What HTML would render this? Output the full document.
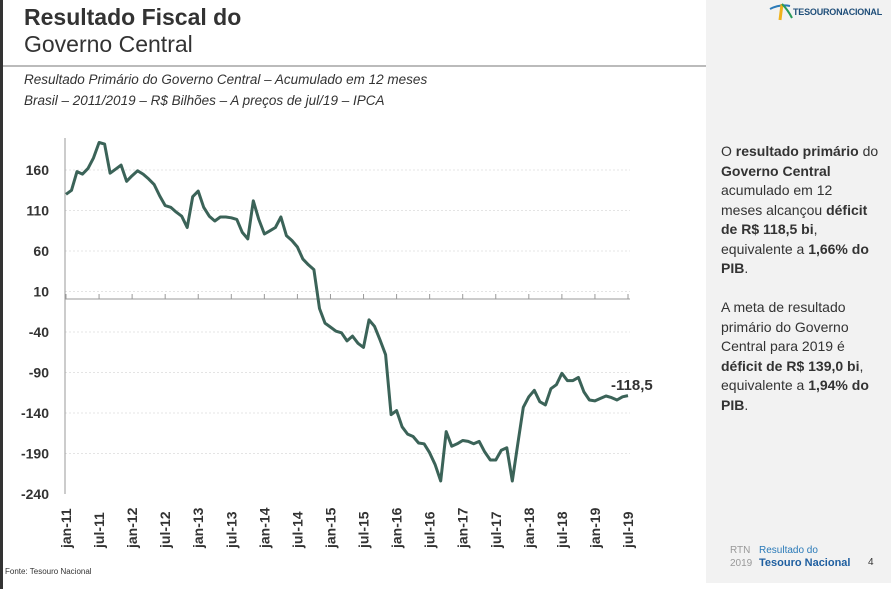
<!DOCTYPE html>
<html><head><meta charset="utf-8"><style>
body{margin:0;width:891px;height:589px;overflow:hidden;background:#fff;font-family:"Liberation Sans",sans-serif;position:relative}
.t1{position:absolute;left:24px;top:4px;font-size:23px;font-weight:bold;color:#333}
.t2{position:absolute;left:24px;top:31px;font-size:23px;color:#333}
.rule{position:absolute;left:3px;top:65px;width:703px;height:2px;background:#bbb}
.sub{position:absolute;left:24px;font-size:13.5px;font-style:italic;color:#333}
.panel{position:absolute;left:706px;top:0;width:185px;height:583px;background:#f2f2f2}
.ptext{position:absolute;left:721px;top:142px;width:170px;font-size:14px;line-height:19.5px;color:#333;white-space:nowrap}
.lb{position:absolute;left:0;top:0;width:3px;height:589px;background:#333}
</style></head><body>
<div class="lb"></div>
<div class="t1">Resultado Fiscal do</div>
<div class="t2">Governo Central</div>
<div class="rule"></div>
<div class="sub" style="top:72px">Resultado Primário do Governo Central – Acumulado em 12 meses</div>
<div class="sub" style="top:93px">Brasil – 2011/2019 – R$ Bilhões – A preços de jul/19 – IPCA</div>
<div class="panel"></div>
<div style="position:absolute;left:768px;top:0;width:120px;height:22px">
<svg width="30" height="22"><path d="M2 9 Q12 4 22 6" stroke="#2a7ab8" stroke-width="2" fill="none"/><path d="M12 20 L14 4" stroke="#f0b21b" stroke-width="3"/><path d="M14 4 Q20 10 24 18" stroke="#2a9a5a" stroke-width="2" fill="none"/></svg>
<span style="position:absolute;left:25px;top:7px;font-size:9px;font-weight:bold;color:#1f4e79;letter-spacing:-0.2px">TESOURONACIONAL</span></div>
<div class="ptext">O <b>resultado primário</b> do<br><b>Governo Central</b><br>acumulado em 12<br>meses alcançou <b>déficit</b><br><b>de R$ 118,5 bi</b>,<br>equivalente a <b>1,66% do</b><br><b>PIB</b>.<br><br>A meta de resultado<br>primário do Governo<br>Central para 2019 é<br><b>déficit de R$ 139,0 bi</b>,<br>equivalente a <b>1,94% do</b><br><b>PIB</b>.</div>
<div style="position:absolute;left:730px;top:544px;font-size:10px;color:#999;line-height:13px">RTN<br>2019</div>
<div style="position:absolute;left:759px;top:544px;font-size:10px;color:#2a7ab8;line-height:13px">Resultado do<br><b style="font-size:11px;color:#1f5fa0">Tesouro Nacional</b></div>
<div style="position:absolute;left:868px;top:557px;font-size:10px;color:#333">4</div>
<div style="position:absolute;left:5px;top:567px;font-size:8px;color:#333">Fonte: Tesouro Nacional</div>
<svg width="891" height="589" style="position:absolute;left:0;top:0" id="c"></svg>
<script>
var v=[130,135,158,155,162,175,194,192,156,161,166,146,153,159,155,149,142,128,116,114,108,103,89,127,134,114,103,97,102,102,101,99,83,75,122,99,81,85,89,102,79,73,65,50,43,37,-11,-29,-34,-39,-41,-51,-45,-54,-59,-25,-33,-50,-68,-142,-137,-157,-166,-169,-177,-178,-189,-204,-224,-163,-181,-178,-174,-175,-178,-175,-188,-198,-198,-186,-183,-224,-178,-133,-120,-112,-126,-130,-110,-105,-91,-100,-100,-96,-114,-124,-125,-122,-119,-121,-124,-120,-118.5];
var n=v.length,x0=66,x1=628,Y=function(a){return 299.6-a*0.81};
var s='';
[160,110,60,10,-40,-90,-140,-190].forEach(function(t){s+='<line x1="65" x2="630" y1="'+Y(t)+'" y2="'+Y(t)+'" stroke="#e4e4e4" stroke-dasharray="2,2"/>';});
[160,110,60,10,-40,-90,-140,-190,-240].forEach(function(t){s+='<text x="49" y="'+(Y(t)+5)+'" text-anchor="end" font-size="14" font-weight="bold" fill="#333">'+t+'</text>';});
s+='<line x1="65" x2="65" y1="138" y2="494" stroke="#999"/><line x1="65" x2="630" y1="299" y2="299" stroke="#999"/>';
var lab=['jan','jul'];
for(var i=0;i<=17;i++){var x=x0+(x1-x0)*i*6/102;var yr=11+Math.floor(i/2);
s+='<line x1="'+x+'" x2="'+x+'" y1="294" y2="299" stroke="#999"/>';
s+='<text transform="translate('+(x+5)+',548) rotate(-90)" font-size="14" font-weight="bold" fill="#333">'+lab[i%2]+'-'+yr+'</text>';}
var p='';for(var i=0;i<n;i++){p+=(i?'L':'M')+(x0+(x1-x0)*i/(n-1)).toFixed(1)+' '+Y(v[i]).toFixed(1);}
s+='<path d="'+p+'" fill="none" stroke="#3b6358" stroke-width="3" stroke-linejoin="round"/>';
s+='<text x="611" y="390" font-size="15" font-weight="bold" fill="#333">-118,5</text>';
document.getElementById('c').innerHTML=s;
</script>
</body></html>
